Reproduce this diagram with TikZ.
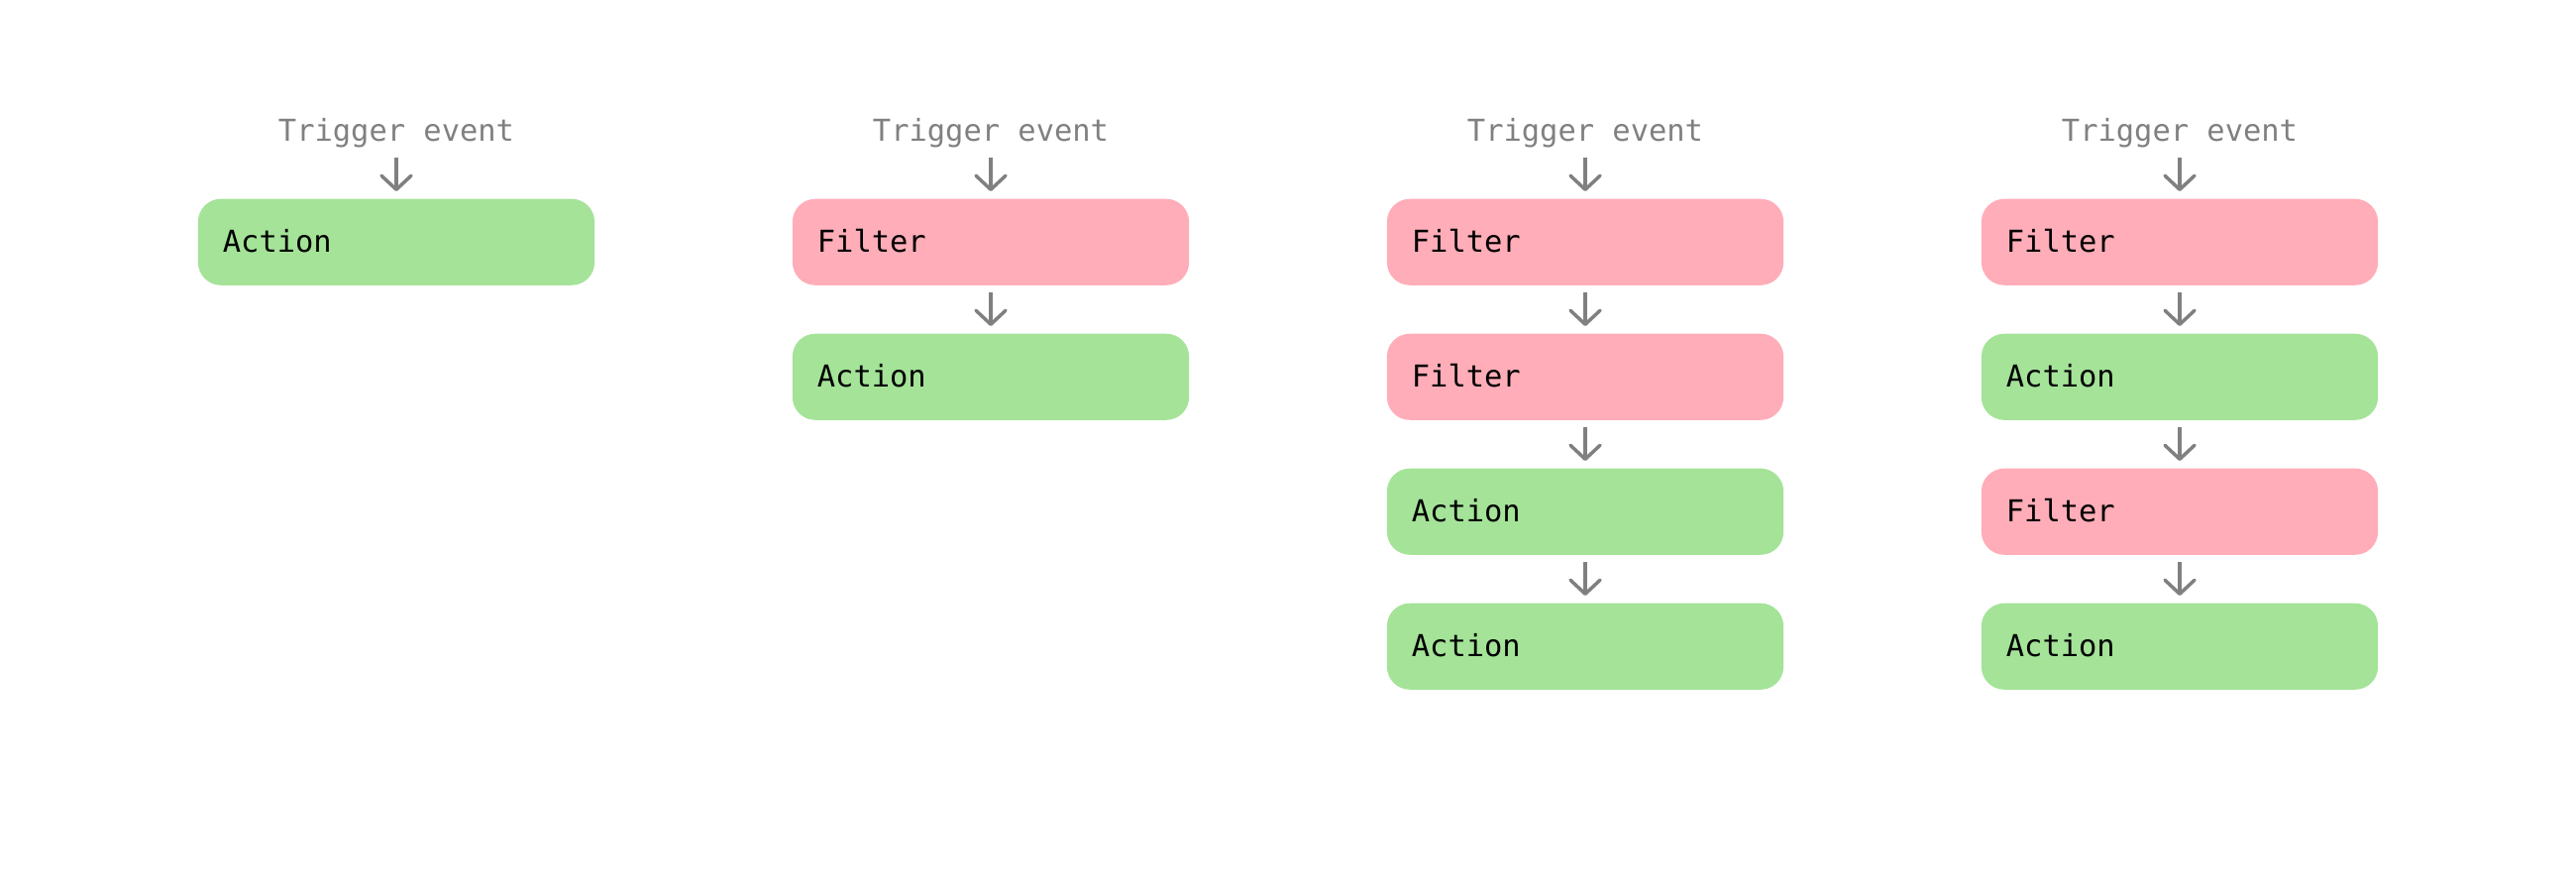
\documentclass[tikz,border=0pt]{standalone}
\usepackage{fontspec}
\setmonofont{DejaVu Sans Mono}
\usetikzlibrary{arrows.meta}
\definecolor{actgreen}{HTML}{A4E398}
\definecolor{filtpink}{HTML}{FFADB8}
\definecolor{arrgray}{HTML}{808080}
\begin{document}
\begin{tikzpicture}[x=0.01cm,y=-0.01cm,
  lbl/.style={font=\ttfamily\fontsize{8.65}{10}\selectfont},
  box/.style={lbl, rounded corners=0.23cm, minimum width=4cm, minimum height=0.87cm,
    text width=3.5cm, inner xsep=0.25cm, inner ysep=0pt, align=left,
    text height=0.21cm, text depth=0pt, anchor=north},
  act/.style={box, fill=actgreen},
  filt/.style={box, fill=filtpink},
  trig/.style={lbl, text=arrgray, inner sep=0pt, text depth=0pt, anchor=base},
  flow/.style={draw=arrgray, line width=0.035cm,
    -{Straight Barb[length=0.14cm,width=0.3cm,round]},
    shorten <=0.07cm, shorten >=0.07cm},
  tflow/.style={flow, shorten <=0.16cm}
]
\useasboundingbox (0,0) rectangle (2600,896);
% column 1
\node[trig] (t1) at (400,142) {Trigger event};
\node[act] (a11) at (400,200) {Action};
\draw[tflow] (t1.south) -- (a11.north);
% column 2
\node[trig] (t2) at (1000,142) {Trigger event};
\node[filt] (f21) at (1000,200) {Filter};
\node[act] (a22) at (1000,336) {Action};
\draw[tflow] (t2.south) -- (f21.north);
\draw[flow] (f21.south) -- (a22.north);
% column 3
\node[trig] (t3) at (1600,142) {Trigger event};
\node[filt] (f31) at (1600,200) {Filter};
\node[filt] (f32) at (1600,336) {Filter};
\node[act] (a33) at (1600,472) {Action};
\node[act] (a34) at (1600,608) {Action};
\draw[tflow] (t3.south) -- (f31.north);
\draw[flow] (f31.south) -- (f32.north);
\draw[flow] (f32.south) -- (a33.north);
\draw[flow] (a33.south) -- (a34.north);
% column 4
\node[trig] (t4) at (2200,142) {Trigger event};
\node[filt] (f41) at (2200,200) {Filter};
\node[act] (a42) at (2200,336) {Action};
\node[filt] (f43) at (2200,472) {Filter};
\node[act] (a44) at (2200,608) {Action};
\draw[tflow] (t4.south) -- (f41.north);
\draw[flow] (f41.south) -- (a42.north);
\draw[flow] (a42.south) -- (f43.north);
\draw[flow] (f43.south) -- (a44.north);
\end{tikzpicture}
\end{document}
